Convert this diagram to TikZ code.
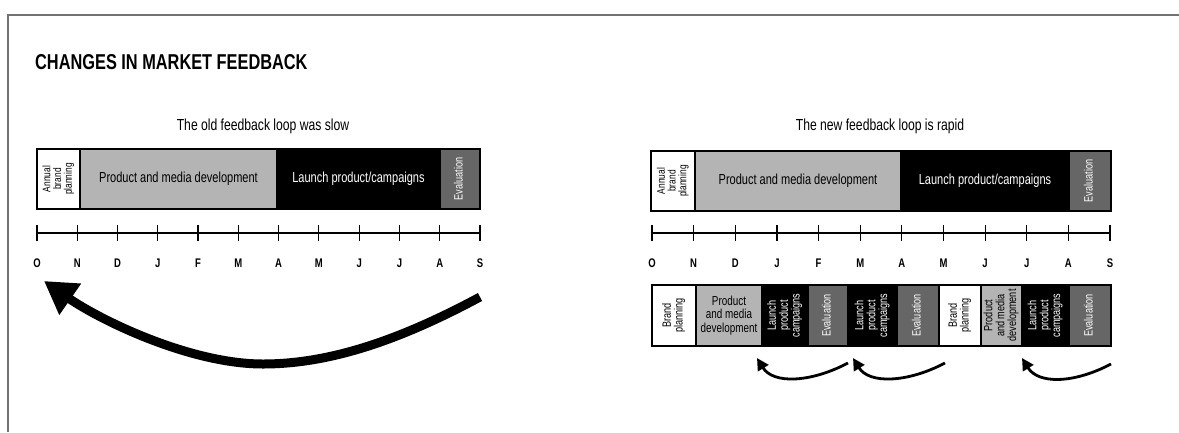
\documentclass[tikz,border=0pt]{standalone}
\usepackage{fontspec}
\setmainfont{Liberation Sans}[FakeStretch=0.76]
\usetikzlibrary{arrows.meta,calc}
\definecolor{devgray}{HTML}{B4B4B4}
\definecolor{evalgray}{HTML}{666666}
\definecolor{framegray}{HTML}{727272}
% rotated, centred multi-line label
\newcommand\rot[1]{\rotatebox{90}{\begin{tabular}{@{}c@{}}#1\end{tabular}}}
% a bar segment: name, x1, x2, y1, y2, style, text
\newcommand\mkseg[7]{%
  \node[#6,minimum width={(#3-#2)*1pt},minimum height={(#5-#4)*1pt}]
    (#1) at ({(#2+#3)/2},{(#4+#5)/2}) {#7};}
\begin{document}
\begin{tikzpicture}[x=1pt,y=-1pt,
  seg/.style={draw=black,line width=1.1pt,inner sep=0pt,outer sep=0pt,align=center},
  plan/.style={seg,fill=white},
  dev/.style={seg,fill=devgray},
  launch/.style={seg,fill=black,text=white},
  evalseg/.style={seg,fill=evalgray,text=white},
  bigtxt/.style={font=\fontsize{14.5}{16}\selectfont},
  tinytxt/.style={font=\fontsize{11}{11}\selectfont\renewcommand\arraystretch{0.85}},
  evaltxt/.style={font=\fontsize{12}{12}\selectfont},
  smalltxt/.style={font=\fontsize{12}{12}\selectfont\renewcommand\arraystretch{0.88}},
  month/.style={font=\fontsize{12.5}{14}\selectfont\bfseries,inner sep=0pt},
  axis/.style={line width=1.2pt},
  heading/.style={font=\fontsize{21.5}{24}\selectfont\bfseries,anchor=west,inner sep=0pt},
  subhead/.style={font=\fontsize{16}{18}\selectfont,inner sep=0pt},
  loop/.style={line width=9pt,-{Triangle[length=32pt,width=36pt]}},
  shortloop/.style={line width=2.8pt,-{Triangle[length=12pt,width=12pt]}}
]
\useasboundingbox (0,0) rectangle (1179,432);
% frame
\draw[framegray,line width=2pt] (8,432) -- (8,15) -- (1179,15);

\node[heading] (title) at (35,62) {CHANGES IN MARKET FEEDBACK};
\node[subhead] (oldhead) at (263,126) {The old feedback loop was slow};
\node[subhead] (newhead) at (880,126) {The new feedback loop is rapid};

% old cycle
\mkseg{o1}{37}{80}{149}{209}{plan,tinytxt}{\rot{Annual\\brand\\planning}}
\mkseg{o2}{80}{277}{149}{209}{dev,bigtxt}{Product and media development}
\mkseg{o3}{277}{440}{149}{209}{launch,bigtxt}{Launch product/campaigns}
\mkseg{o4}{440}{480}{149}{209}{evalseg,evaltxt}{\rot{Evaluation}}

% new cycle
\mkseg{n1}{651}{695}{151}{211}{plan,tinytxt}{\rot{Annual\\brand\\planning}}
\mkseg{n2}{695}{901}{151}{211}{dev,bigtxt}{Product and media development}
\mkseg{n3}{901}{1069}{151}{211}{launch,bigtxt}{Launch product/campaigns}
\mkseg{n4}{1069}{1111}{151}{211}{evalseg,evaltxt}{\rot{Evaluation}}

% month axes
\foreach \m [count=\k from 0] in {O,N,D,J,F,M,A,M,J,J,A,S} {
  \coordinate (ot\k) at ({37+\k*40.27},233);
  \draw[axis] ($(ot\k)+(0,-8)$) -- ($(ot\k)+(0,8)$);
  \node[month] (om\k) at ({37+\k*40.27},263) {\m};
  \coordinate (nt\k) at ({652+\k*41.64},233);
  \draw[axis] ($(nt\k)+(0,-8)$) -- ($(nt\k)+(0,8)$);
  \node[month] (nm\k) at ({652+\k*41.64},263) {\m};
}
\draw[axis] (ot0) -- (ot11);
\draw[axis] (nt0) -- (nt11);

% quick cycles
\mkseg{l1}{652}{696}{285}{346}{plan,smalltxt}{\rot{Brand\\planning}}
\mkseg{l2}{696}{762}{285}{346}{dev,font=\fontsize{13}{13.5}\selectfont}{Product\\and media\\development}
\mkseg{l3}{762}{808}{285}{346}{launch,smalltxt}{\rot{Launch\\product\\campaigns}}
\mkseg{l4}{808}{848}{285}{346}{evalseg,evaltxt}{\rot{Evaluation}}
\mkseg{l5}{848}{897}{285}{346}{launch,smalltxt}{\rot{Launch\\product\\campaigns}}
\mkseg{l6}{897}{939}{285}{346}{evalseg,evaltxt}{\rot{Evaluation}}
\mkseg{l7}{939}{981}{285}{346}{plan,smalltxt}{\rot{Brand\\planning}}
\mkseg{l8}{981}{1022}{285}{346}{dev,smalltxt}{\rot{Product\\and media\\development}}
\mkseg{l9}{1022}{1069}{285}{346}{launch,smalltxt}{\rot{Launch\\product\\campaigns}}
\mkseg{l10}{1069}{1111}{285}{346}{evalseg,evaltxt}{\rot{Evaluation}}

% slow feedback
\coordinate (bigstart) at ($(o4.south east)+(0,88)$);
\coordinate (bigtip) at ($(o1.south west)+(7,72)$);
\draw[loop] (bigstart) .. controls (400,340) and (330,364) .. (263,364)
  .. controls (190,364) and (100,320) .. (bigtip);

% rapid feedback
\coordinate (s1) at ($(l4.south east)+(0,17)$);
\coordinate (t1) at ($(l3.south west)+(-5,12)$);
\coordinate (s2) at ($(l6.south east)+(6,17)$);
\coordinate (t2) at ($(l5.south west)+(5,12)$);
\coordinate (s3) at ($(l10.south east)+(0,18)$);
\coordinate (t3) at ($(l9.south west)+(0,12)$);
\foreach \i in {1,2,3}
  \draw[shortloop] (s\i) .. controls +(-38,20) and +(16,26) .. (t\i);
\end{tikzpicture}
\end{document}
